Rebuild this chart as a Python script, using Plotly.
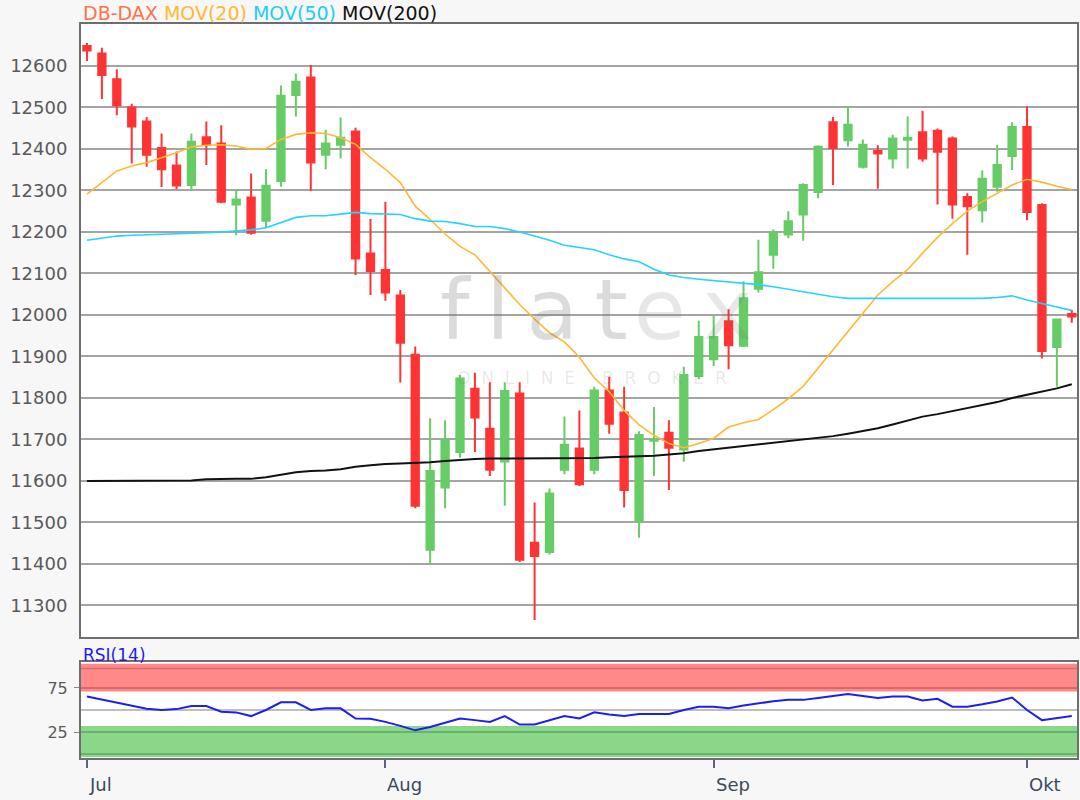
import plotly.graph_objects as go
import pandas as pd

# ---------------- data ----------------
dates = pd.bdate_range("2019-07-04", "2019-10-04").strftime("%Y-%m-%d").tolist()

open_ = [12648, 12630, 12568, 12500, 12466, 12402, 12360, 12313, 12428, 12413,
         12266, 12283, 12227, 12323, 12530, 12572, 12386, 12410, 12442, 12148,
         12108, 12047, 11904, 11434, 11584, 11670, 11822, 11726, 11647, 11811,
         11451, 11429, 11627, 11678, 11627, 11818, 11765, 11504, 11697, 11716,
         11676, 11853, 11893, 11985, 11926, 12063, 12145, 12194, 12242, 12296,
         12464, 12421, 12357, 12395, 12377, 12422, 12440, 12444, 12425, 12284,
         12252, 12309, 12383, 12453, 12265, 11923, 12002]
high = [12655, 12644, 12592, 12509, 12477, 12437, 12394, 12437, 12466, 12457,
        12301, 12341, 12351, 12553, 12582, 12602, 12446, 12476, 12451, 12231,
        12273, 12060, 11924, 11751, 11746, 11855, 11861, 11838, 11838, 11838,
        11548, 11582, 11755, 11770, 11827, 11851, 11827, 11720, 11778, 11746,
        11875, 11986, 11998, 12014, 12081, 12181, 12206, 12250, 12317, 12409,
        12477, 12500, 12423, 12409, 12434, 12478, 12492, 12449, 12430, 12293,
        12348, 12410, 12464, 12502, 12269, 11990, 12012]
low = [12612, 12520, 12481, 12365, 12357, 12308, 12303, 12299, 12361, 12269,
       12192, 12193, 12210, 12309, 12478, 12299, 12351, 12377, 12096, 12048,
       12034, 11837, 11534, 11402, 11534, 11656, 11670, 11612, 11540, 11405,
       11265, 11423, 11616, 11588, 11616, 11714, 11536, 11463, 11612, 11578,
       11646, 11845, 11877, 11869, 11923, 12054, 12111, 12185, 12179, 12281,
       12313, 12406, 12353, 12304, 12353, 12353, 12369, 12266, 12232, 12145,
       12223, 12297, 12349, 12228, 11895, 11827, 11981]
close = [12637, 12578, 12505, 12454, 12386, 12351, 12312, 12417, 12410, 12273,
         12278, 12198, 12311, 12528, 12562, 12367, 12413, 12427, 12136, 12106,
         12054, 11933, 11540, 11624, 11698, 11847, 11753, 11627, 11817, 11410,
         11419, 11570, 11687, 11592, 11818, 11738, 11578, 11711, 11700, 11680,
         11855, 11947, 11947, 11927, 12040, 12103, 12198, 12226, 12313, 12405,
         12402, 12458, 12410, 12389, 12425, 12427, 12377, 12393, 12266, 12262,
         12328, 12361, 12453, 12248, 11913, 11989, 11996]

mov20 = [12291, 12320, 12347, 12359, 12367, 12379, 12391, 12405, 12409, 12410,
         12407, 12399, 12401, 12423, 12435, 12439, 12437, 12427, 12411, 12379,
         12351, 12319, 12262, 12230, 12195, 12165, 12145, 12105, 12065, 12025,
         11990, 11957, 11935, 11898, 11848, 11815, 11770, 11735, 11710, 11690,
         11680, 11690, 11703, 11730, 11740, 11748, 11772, 11798, 11828, 11872,
         11918, 11960, 12004, 12048, 12080, 12109, 12149, 12187, 12220, 12250,
         12273, 12292, 12313, 12327, 12320, 12310, 12302]
mov50 = [12180, 12185, 12190, 12192, 12193, 12194, 12195, 12196, 12198, 12200,
         12202, 12205, 12210, 12222, 12235, 12239, 12239, 12243, 12247, 12244,
         12243, 12242, 12232, 12226, 12225, 12220, 12213, 12213, 12208, 12200,
         12190, 12180, 12168, 12162, 12157, 12145, 12135, 12128, 12110, 12096,
         12090, 12086, 12083, 12080, 12077, 12073, 12068, 12062, 12056, 12050,
         12044, 12040, 12040, 12040, 12040, 12040, 12040, 12040, 12040, 12040,
         12040, 12042, 12046, 12036, 12027, 12019, 12011]
mov200 = [11600, 11600, 11600, 11600, 11600, 11600, 11600, 11601, 11604, 11605,
          11605, 11605, 11609, 11615, 11621, 11624, 11625, 11628, 11634, 11638,
          11641, 11642, 11643, 11645, 11648, 11651, 11653, 11654, 11654, 11654,
          11654, 11654, 11654, 11655, 11655, 11657, 11658, 11660, 11661, 11664,
          11667, 11672, 11676, 11680, 11685, 11689, 11692, 11696, 11700, 11704,
          11708, 11714, 11720, 11727, 11736, 11745, 11755, 11761, 11768, 11775,
          11783, 11790, 11800, 11808, 11815, 11823, 11833]
rsi14 = [65.4, 62.0, 58.5, 55.0, 51.5, 50.0, 51.0, 54.6, 54.6, 48.1,
         47.3, 43.1, 50.0, 58.8, 58.8, 50.0, 51.9, 51.9, 40.4, 40.0,
         36.5, 32.0, 26.9, 30.8, 35.5, 40.4, 38.5, 36.5, 43.1, 33.5,
         33.5, 38.0, 43.1, 40.4, 47.3, 45.0, 43.1, 45.4, 45.4, 45.4,
         50.0, 53.8, 53.8, 51.9, 55.0, 57.7, 60.0, 61.5, 61.5, 63.5,
         65.4, 68.1, 66.0, 63.5, 65.4, 65.4, 60.8, 62.7, 53.8, 53.8,
         56.5, 59.6, 64.2, 50.0, 38.5, 40.4, 43.1]

price_ticks = list(range(11300, 12700, 100))
rsi_ticks = [25, 75]
month_dates = ["2019-07-04", "2019-08-01", "2019-09-02", "2019-10-01"]
month_labels = ["Jul", "Aug", "Sep", "Okt"]

# ---------------- figure ----------------
W, H = 1080, 800
FONT = "DejaVu Sans"
GREEN, RED = "#66CC66", "#FF3333"


def px_x(p):
    return p / W


def px_y(p):
    return 1 - p / H


fig = go.Figure()
fig.add_trace(go.Candlestick(
    x=dates, open=open_, high=high, low=low, close=close,
    increasing=dict(line=dict(color=GREEN, width=2), fillcolor=GREEN),
    decreasing=dict(line=dict(color=RED, width=2), fillcolor=RED),
    whiskerwidth=0, showlegend=False, hoverinfo="skip",
    xaxis="x", yaxis="y"))
fig.add_trace(go.Scatter(x=dates, y=mov20, mode="lines",
                         line=dict(color="#FFB833", width=1.6), showlegend=False))
fig.add_trace(go.Scatter(x=dates, y=mov50, mode="lines",
                         line=dict(color="#22D4FF", width=1.6), showlegend=False))
fig.add_trace(go.Scatter(x=dates, y=mov200, mode="lines",
                         line=dict(color="#111111", width=2), showlegend=False))
fig.add_trace(go.Scatter(x=dates, y=rsi14, mode="lines", xaxis="x2", yaxis="y2",
                         line=dict(color="#1E1EF0", width=2), showlegend=False))

xdom = [px_x(81), px_x(1077)]
xr = [-0.4, 66.35]
frame = dict(showline=True, mirror=True, linecolor="#6E6E6E", linewidth=2,
             zeroline=False)

fig.update_layout(
    width=W, height=H,
    margin=dict(l=0, r=0, t=0, b=0),
    paper_bgcolor="#F7F7F7", plot_bgcolor="#FFFFFF",
    showlegend=False,
    font=dict(family=FONT),
    xaxis=dict(domain=xdom, anchor="y", type="category", range=xr,
               rangeslider=dict(visible=False), showticklabels=False,
               showgrid=False, ticks="", **frame),
    yaxis=dict(domain=[px_y(637), px_y(24)], anchor="x", range=[11224, 12701],
               tickvals=price_ticks, tickformat="d", showgrid=True,
               gridcolor="#A4A4A4", gridwidth=1.5, ticks="", ticklabelstandoff=8,
               tickfont=dict(family=FONT, size=18, color="#5A5A5A"), **frame),
    xaxis2=dict(domain=xdom, anchor="y2", type="category", range=xr,
                tickvals=month_dates, ticktext=["" for _ in month_labels],
                ticks="outside", ticklen=8, tickwidth=1.5, tickcolor="#56657A",
                showgrid=False, **frame),
    yaxis2=dict(domain=[px_y(758), px_y(662)], anchor="x2", range=[-4.5, 104.5],
                tickvals=rsi_ticks, showgrid=False, ticks="outside", ticklen=5,
                tickcolor="#8A8A8A", ticklabelstandoff=3,
                tickfont=dict(family=FONT, size=16, color="#5A5A5A"), **frame),
)

# RSI zones
shapes = [
    dict(type="rect", xref="x2 domain", yref="y2", x0=0, x1=1, y0=71, y1=102.5,
         fillcolor="#FF8888", line=dict(width=0), layer="below"),
    dict(type="rect", xref="x2 domain", yref="y2", x0=0, x1=1, y0=-3.5, y1=31.8,
         fillcolor="#8AD78A", line=dict(width=0), layer="below"),
]
for lvl, col in [(97, "#D86A6A"), (75, "#C96060"), (25, "#5EA85E"), (0, "#5EA85E"),
                 (50, "#A8A8A8")]:
    shapes.append(dict(type="line", xref="x2 domain", yref="y2", x0=0, x1=1,
                       y0=lvl, y1=lvl, line=dict(color=col, width=1.5),
                       layer="below"))
fig.update_layout(shapes=shapes)

ann = []
# header
ann.append(dict(
    xref="paper", yref="paper", x=px_x(81), y=px_y(13), xanchor="left",
    yanchor="middle", showarrow=False,
    text=("<span style='color:#FF7248'>DB-DAX</span> "
          "<span style='color:#FFB833'>MOV(20)</span> "
          "<span style='color:#22CCF5'>MOV(50)</span> "
          "<span style='color:#111111'>MOV(200)</span>"),
    font=dict(family=FONT, size=19)))
ann.append(dict(xref="paper", yref="paper", x=px_x(81), y=px_y(655),
                xanchor="left", yanchor="middle", showarrow=False,
                text="RSI(14)", font=dict(family=FONT, size=17, color="#1E1EF0")))
# month labels, left-aligned at their ticks
for d, lab in zip(month_dates, month_labels):
    ann.append(dict(xref="x2", yref="paper", x=d, y=px_y(784), xanchor="left",
                    yanchor="middle", showarrow=False, text=lab,
                    font=dict(family=FONT, size=18, color="#3A4A5E")))
# watermark
ann.append(dict(xref="paper", yref="paper", x=px_x(438), y=px_y(310),
                xanchor="left", yanchor="middle", showarrow=False,
                text="f\u2009l\u2009a\u2009t",
                font=dict(family=FONT, size=84, color="rgba(110,110,110,0.25)")))
ann.append(dict(xref="paper", yref="paper", x=px_x(632), y=px_y(310),
                xanchor="left", yanchor="middle", showarrow=False,
                text="e\u2009x",
                font=dict(family=FONT, size=84, color="rgba(110,110,110,0.17)")))
ann.append(dict(xref="paper", yref="paper", x=px_x(592), y=px_y(378),
                xanchor="center", yanchor="middle", showarrow=False,
                text="O  N  L  I  N  E     B  R  O  K  E  R",
                font=dict(family=FONT, size=17, color="rgba(110,110,110,0.16)")))
fig.update_layout(annotations=ann)

fig.write_html(
    "out.html",
    config={"displayModeBar": False},
    post_script="document.body.style.margin='0';document.body.style.overflow='hidden';",
)
